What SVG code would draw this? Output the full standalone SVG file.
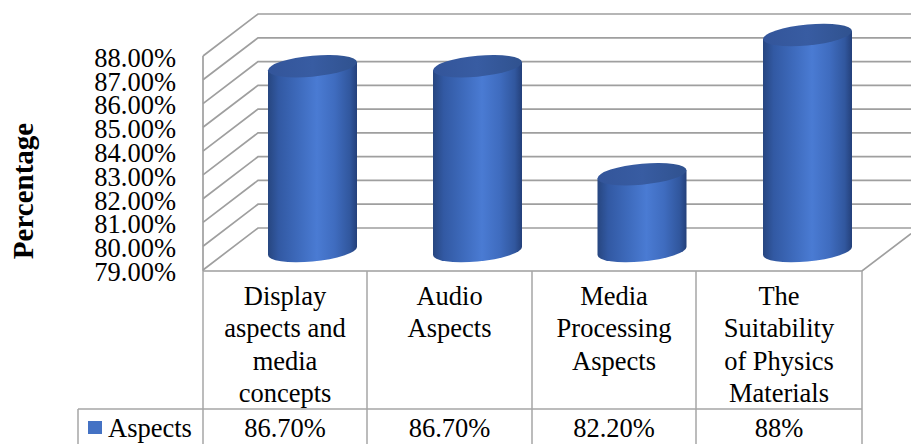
<svg xmlns="http://www.w3.org/2000/svg" width="911" height="444" viewBox="0 0 911 444">
<style>
.g{stroke:#9f9f9f;stroke-width:1.7;fill:none}
.t{stroke:#a6a6a6;stroke-width:1.5;fill:none}
text{font-family:'Liberation Serif','Tinos','Times New Roman','DejaVu Serif',serif;fill:#000;font-size:26.5px}
.ax{text-anchor:end;font-size:26.5px}
.c{text-anchor:middle}
.cap{fill:url(#capg)}
.body{fill:url(#bodyg)}
</style>
<defs>
<linearGradient id="bodyg" x1="0" y1="0" x2="1" y2="0">
<stop offset="0" stop-color="#274680"/>
<stop offset="0.12" stop-color="#3259a3"/>
<stop offset="0.35" stop-color="#3e6bbd"/>
<stop offset="0.55" stop-color="#4a7bd3"/>
<stop offset="0.75" stop-color="#3f6cbf"/>
<stop offset="0.92" stop-color="#31579e"/>
<stop offset="1" stop-color="#24407a"/>
</linearGradient>
<linearGradient id="capg" x1="0" y1="0" x2="1" y2="0">
<stop offset="0" stop-color="#33559a"/>
<stop offset="0.5" stop-color="#385ca2"/>
<stop offset="1" stop-color="#30528f"/>
</linearGradient>
</defs>
<rect width="911" height="444" fill="#fff"/>
<g id="grid" class="g">
<path d="M203,56 L258,14 L911,14"/>
<path d="M203,79.8 L258,37.8 L911,37.8"/>
<path d="M203,103.6 L258,61.6 L911,61.6"/>
<path d="M203,127.3 L258,85.3 L911,85.3"/>
<path d="M203,151.1 L258,109.1 L911,109.1"/>
<path d="M203,174.9 L258,132.9 L911,132.9"/>
<path d="M203,198.7 L258,156.7 L911,156.7"/>
<path d="M203,222.4 L258,180.4 L911,180.4"/>
<path d="M203,246.2 L258,204.2 L911,204.2"/>
<path d="M203,270 L258,228 L911,228"/>
<path d="M203,56 L203,271"/>
<path d="M203,271 L862,271 L911,233.6"/>
</g>
<g id="bar1" transform="matrix(1,-0.09,0,1,0,28.13)">
<path class="body" d="M268,66.2 L268,251 A44.5,10.5 0 0 0 357,251 L357,66.2 Z"/>
<ellipse class="cap" cx="312.5" cy="66.2" rx="44.5" ry="10.5"/>
</g>
<g id="bar2" transform="matrix(1,-0.09,0,1,0,42.98)">
<path class="body" d="M433,66.2 L433,251 A44.5,10.5 0 0 0 522,251 L522,66.2 Z"/>
<ellipse class="cap" cx="477.5" cy="66.2" rx="44.5" ry="10.5"/>
</g>
<g id="bar3" transform="matrix(1,-0.09,0,1,0,57.78)">
<path class="body" d="M597.5,174.2 L597.5,251 A44.5,10.5 0 0 0 686.5,251 L686.5,174.2 Z"/>
<ellipse class="cap" cx="642" cy="174.2" rx="44.5" ry="10.5"/>
</g>
<g id="bar4" transform="matrix(1,-0.09,0,1,0,72.68)">
<path class="body" d="M763,35 L763,251 A44.5,10.5 0 0 0 852,251 L852,35 Z"/>
<ellipse class="cap" cx="807.5" cy="35" rx="44.5" ry="10.5"/>
</g>
<g id="axis">
<text class="ax" x="176" y="66.7">88.00%</text>
<text class="ax" x="176" y="90.5">87.00%</text>
<text class="ax" x="176" y="114.3">86.00%</text>
<text class="ax" x="176" y="138.1">85.00%</text>
<text class="ax" x="176" y="161.9">84.00%</text>
<text class="ax" x="176" y="185.7">83.00%</text>
<text class="ax" x="176" y="209.5">82.00%</text>
<text class="ax" x="176" y="233.3">81.00%</text>
<text class="ax" x="176" y="257.1">80.00%</text>
<text class="ax" x="176" y="280.9">79.00%</text>
<text class="c" transform="translate(33,191) rotate(-90)" style="font-weight:bold;font-size:29px">Percentage</text>
</g>
<g id="table">
<path class="t" d="M203,271 L203,444 M367,271 L367,444 M532,271 L532,444 M696,271 L696,444 M862,271 L862,444 M78,409 L862,409 M78,409 L78,444"/>
<g id="cat1">
<text class="c" x="285" y="305">Display</text>
<text class="c" x="285" y="337">aspects and</text>
<text class="c" x="285" y="369.5">media</text>
<text class="c" x="285" y="402">concepts</text>
</g>
<g id="cat2">
<text class="c" x="449.5" y="305">Audio</text>
<text class="c" x="449.5" y="337">Aspects</text>
</g>
<g id="cat3">
<text class="c" x="614" y="305">Media</text>
<text class="c" x="614" y="337">Processing</text>
<text class="c" x="614" y="369.5">Aspects</text>
</g>
<g id="cat4">
<text class="c" x="779" y="305">The</text>
<text class="c" x="779" y="337">Suitability</text>
<text class="c" x="779" y="369.5">of Physics</text>
<text class="c" x="779" y="402">Materials</text>
</g>
<g id="legend">
<rect x="88" y="421" width="14" height="13" fill="#4472c4"/>
<text x="108" y="437">Aspects</text>
</g>
<g id="values">
<text class="c" x="285" y="437">86.70%</text>
<text class="c" x="449.5" y="437">86.70%</text>
<text class="c" x="614" y="437">82.20%</text>
<text class="c" x="779" y="437">88%</text>
</g>
</g>
</svg>
